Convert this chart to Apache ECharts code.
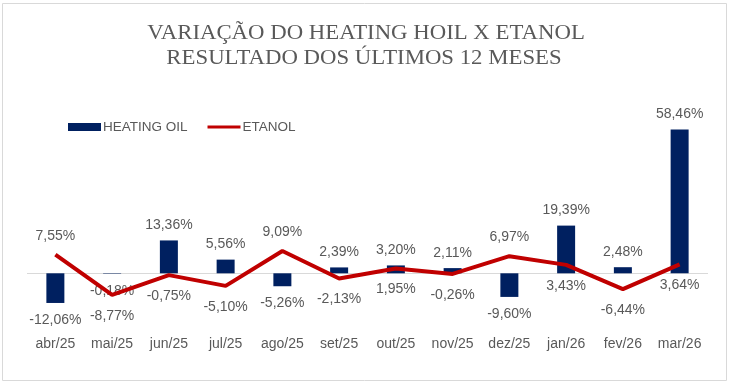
<!DOCTYPE html>
<html><head><meta charset="utf-8">
<script src="https://cdn.jsdelivr.net/npm/echarts@6/dist/echarts.min.js"></script>
<style>html,body{margin:0;padding:0;background:#fff}#c{width:732px;height:384px}</style>
</head><body><div id="c"></div>
<script>
const categories = ['abr/25','mai/25','jun/25','jul/25','ago/25','set/25','out/25','nov/25','dez/25','jan/26','fev/26','mar/26'];
const heatingOil = [-12.06, -0.18, 13.36, 5.56, -5.26, 2.39, 3.20, 2.11, -9.60, 19.39, 2.48, 58.46];
const etanol = [7.55, -8.77, -0.75, -5.10, 9.09, -2.13, 1.95, -0.26, 6.97, 3.43, -6.44, 3.64];
const etanolLabelPos = ['top','bottom','bottom','bottom','top','bottom','bottom','bottom','top','bottom','bottom','bottom'];
const titleLines = ['VARIAÇÃO DO HEATING HOIL X ETANOL', 'RESULTADO DOS ÚLTIMOS 12 MESES'];

const fmt = v => v.toFixed(2).replace('.', ',') + '%';
const chart = echarts.init(document.getElementById('c'), null, {renderer:'canvas'});
const lblStyle = {fontFamily:'Liberation Sans, Arial', fontSize:14, color:'#595959'};
const titleStyle = t => ({text:t, x:0, y:0, fontFamily:'Liberation Serif, Times New Roman', fontSize:21, fill:'#595959', textAlign:'center', textVerticalAlign:'middle'});

chart.setOption({
  animation:false,
  graphic:[
    {type:'rect', shape:{x:2.5,y:3.5,width:724,height:377}, style:{fill:'none',stroke:'#d9d9d9',lineWidth:1}, z:0},
    {type:'text', x:366, y:33, scaleX:1.085, originX:0, originY:0, style:titleStyle(titleLines[0])},
    {type:'text', x:364, y:58.5, scaleX:1.085, originX:0, originY:0, style:titleStyle(titleLines[1])}
  ],
  legend:{
    left:63, top:115, itemGap:20, itemWidth:33, itemHeight:8,
    textStyle:{fontFamily:'Liberation Sans, Arial', fontSize:13.5, color:'#595959', padding:[0,0,0,-3]},
    data:[
      {name:'HEATING OIL', icon:'rect', itemStyle:{color:'#002060'}},
      {name:'ETANOL', icon:'path://M0,0 L33,0 L33,3 L0,3 Z', itemStyle:{color:'#C00000'}}
    ]
  },
  grid:{left:27, right:24, top:125.7, bottom:61.5},
  xAxis:{
    type:'category', data:categories,
    axisLine:{show:false, onZero:false}, axisTick:{show:false},
    axisLabel:{...lblStyle, margin:15}
  },
  yAxis:{type:'value', min:-20, max:60, show:false, splitLine:{show:false}},
  series:[
    {
      name:'HEATING OIL', type:'bar', barWidth:18,
      data:heatingOil.map(v=>({value:v, label:{position: v<0?'bottom':'top', distance: v<0?10:8}})),
      itemStyle:{color:'#002060'},
      label:{show:true, ...lblStyle, formatter:p=>fmt(p.value)},
      markLine:{silent:true, symbol:'none', label:{show:false}, lineStyle:{color:'#d9d9d9', type:'solid', width:1}, data:[{yAxis:0}], z:1},
      z:2
    },
    {
      name:'ETANOL', type:'line',
      data:etanol.map((v,i)=>({value:v, label:{position:etanolLabelPos[i], distance: etanolLabelPos[i]==='top'?12:14}})),
      symbol:'circle', symbolSize:0.01, showSymbol:true, showAllSymbol:true,
      lineStyle:{color:'#C00000', width:4}, itemStyle:{color:'#C00000'},
      label:{show:true, ...lblStyle, formatter:p=>fmt(p.value)},
      z:3
    }
  ]
});
</script></body></html>
